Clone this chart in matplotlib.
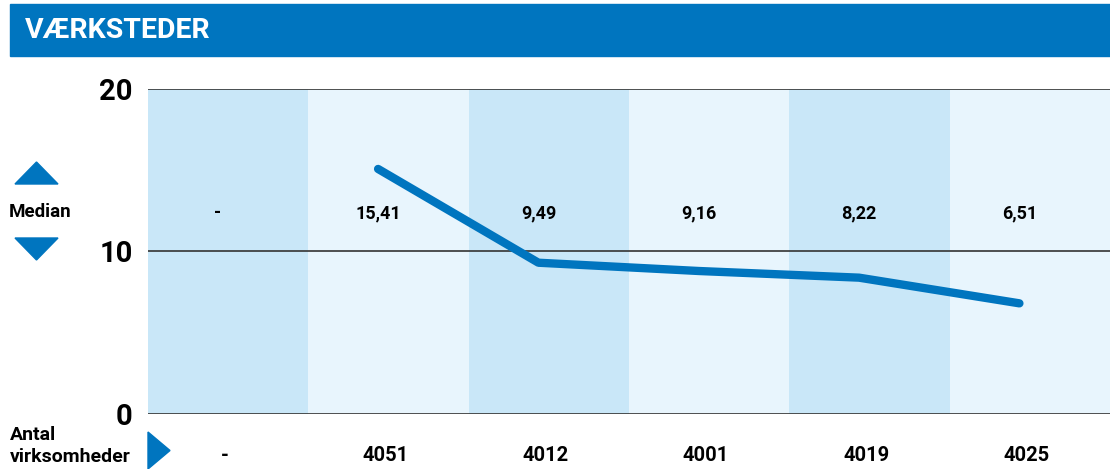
import numpy as np
import matplotlib.pyplot as plt
import matplotlib.transforms as mtransforms
from matplotlib.patches import Polygon

plt.rcParams['font.family'] = ['Roboto', 'DejaVu Sans']

# data
median_labels = ['-', '15,41', '9,49', '9,16', '8,22', '6,51']
antal_labels = ['-', '4051', '4012', '4001', '4019', '4025']
line_values = [15.08, 9.31, 8.80, 8.39, 6.81]
y_ticks = [0, 10, 20]

blue = '#0075bf'
band_dark = '#c9e7f8'
band_light = '#e8f5fd'

W, H = 1110, 469
fig = plt.figure(figsize=(W / 100, H / 100), dpi=100)

# title bar
fig.patches.append(plt.Rectangle((10 / W, 1 - 56 / H), 1 - 10 / W, 52 / H,
                                 transform=fig.transFigure, color=blue, zorder=0))
fig.text(25 / W, 1 - 31 / H, 'VÆRKSTEDER', color='white', fontsize=20.5,
         fontweight='bold', va='center', ha='left')

ax = fig.add_axes([148 / W, (H - 414) / H, 962 / W, 325 / H])
n = len(median_labels)
for i in range(n):
    ax.axvspan(i - 0.5, i + 0.5, color=band_dark if i % 2 == 0 else band_light,
               lw=0, zorder=0)
for t in y_ticks:
    ax.axhline(t, color='#333333', lw=1.2, zorder=1)

ax.set_xlim(-0.5, n - 0.5)
ax.set_ylim(0, 20)
ax.set_xticks([])
ax.set_yticks(y_ticks)
ax.set_yticklabels([str(t) for t in y_ticks], fontsize=21, fontweight='bold')
ax.tick_params(axis='y', length=0, pad=11)
for s in ax.spines.values():
    s.set_visible(False)

shift = -0.065
x_line = np.arange(1, n) + shift
ax.plot(x_line, line_values, color=blue, lw=6, solid_capstyle='round',
        solid_joinstyle='round', zorder=3)

for i, lab in enumerate(median_labels):
    ax.text(i + shift, 12.37, lab, ha='center', va='center', fontsize=13,
            fontweight='bold', zorder=4)

trans = mtransforms.blended_transform_factory(ax.transData, ax.transAxes)
for i, lab in enumerate(antal_labels):
    ax.text(i - 0.02, -0.129, lab, transform=trans, ha='center', va='center',
            fontsize=14.5, fontweight='bold', clip_on=False)

# left side markers
def fx(x):
    return x / W


def fy(y):
    return 1 - y / H


fig.patches.append(Polygon([(fx(15), fy(184)), (fx(58), fy(184)), (fx(36.5), fy(162))],
                           closed=True, transform=fig.transFigure, color=blue))
fig.patches.append(Polygon([(fx(15), fy(238)), (fx(58), fy(238)), (fx(36.5), fy(260))],
                           closed=True, transform=fig.transFigure, color=blue))
fig.text(fx(40), fy(212), 'Median', ha='center', va='center', fontsize=13.5,
         fontweight='bold')
fig.patches.append(Polygon([(fx(148), fy(432)), (fx(148), fy(469)), (fx(170), fy(450.5))],
                           closed=True, transform=fig.transFigure, color=blue))
fig.text(fx(10), fy(435), 'Antal', ha='left', va='center', fontsize=14,
         fontweight='bold')
fig.text(fx(10), fy(457), 'virksomheder', ha='left', va='center', fontsize=14,
         fontweight='bold')

fig.savefig('out.png', dpi=100)
